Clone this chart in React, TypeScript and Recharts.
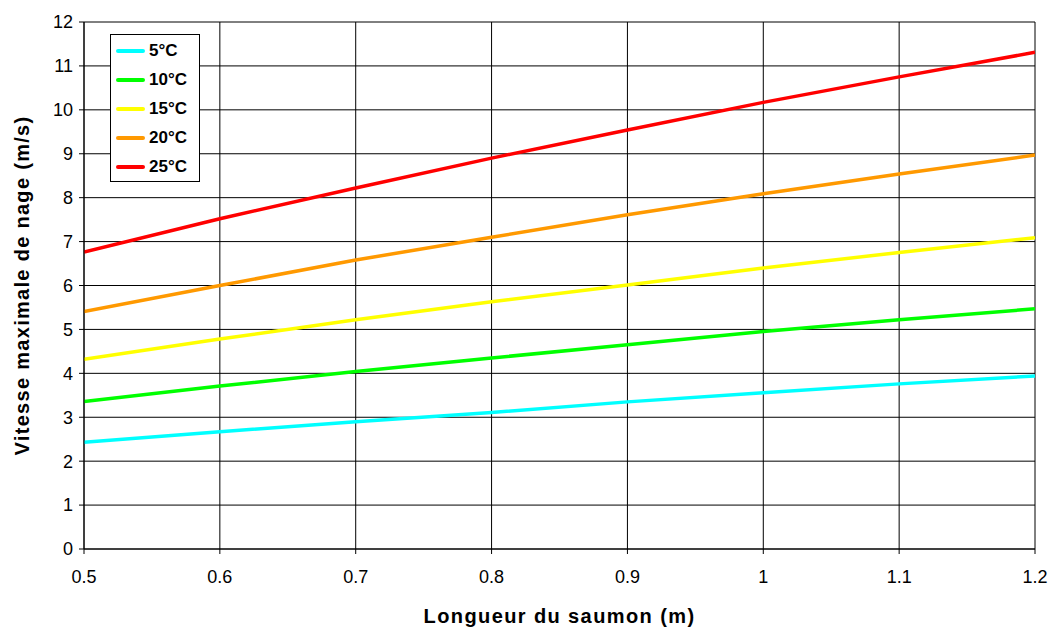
import React from 'react';
import { LineChart, Line, XAxis, YAxis, CartesianGrid } from 'recharts';

const lengths = [0.5, 0.6, 0.7, 0.8, 0.9, 1.0, 1.1, 1.2];
const t5 = [2.43, 2.67, 2.9, 3.11, 3.35, 3.56, 3.76, 3.94];
const t10 = [3.36, 3.71, 4.04, 4.35, 4.65, 4.95, 5.22, 5.47];
const t15 = [4.32, 4.78, 5.22, 5.63, 6.01, 6.4, 6.75, 7.09];
const t20 = [5.41, 6.0, 6.58, 7.1, 7.61, 8.09, 8.54, 8.97];
const t25 = [6.76, 7.52, 8.22, 8.9, 9.54, 10.17, 10.75, 11.31];
const xTicks = [0.5, 0.6, 0.7, 0.8, 0.9, 1.0, 1.1, 1.2];
const yTicks = [0, 1, 2, 3, 4, 5, 6, 7, 8, 9, 10, 11, 12];

const seriesNames = ['5°C', '10°C', '15°C', '20°C', '25°C'];
const seriesKeys = ['t5', 't10', 't15', 't20', 't25'];
const seriesColors = ['#00FFFF', '#00FF00', '#FFFF00', '#FF9900', '#FF0000'];

const data = lengths.map((x, i) => ({
  x,
  t5: t5[i],
  t10: t10[i],
  t15: t15[i],
  t20: t20[i],
  t25: t25[i],
}));

const FONT = 'Arial, "Liberation Sans", sans-serif';

const LegendBox = () => (
  <div
    style={{
      position: 'absolute',
      left: 110,
      top: 34,
      border: '1px solid #000',
      background: '#fff',
      width: 90,
      height: 148,
      boxSizing: 'border-box',
      paddingTop: 1,
      fontFamily: FONT,
    }}
  >
    {seriesNames.map((n, i) => (
      <div key={n} style={{ display: 'flex', alignItems: 'center', height: 29.2 }}>
        <div style={{ width: 29, height: 4, background: seriesColors[i], marginLeft: 5, borderRadius: 2 }} />
        <span style={{ marginLeft: 4, fontWeight: 'bold', fontSize: 17, color: '#000' }}>{n}</span>
      </div>
    ))}
  </div>
);

export default function App() {
  return (
    <div style={{ position: 'absolute', left: 0, top: 0, width: 1056, height: 627, background: '#fff' }}>
      <LineChart
        width={1056}
        height={627}
        data={data}
        margin={{ top: 22, right: 21, left: 0, bottom: 0 }}
      >
        <CartesianGrid stroke="#000" strokeWidth={1} vertical horizontal />
        <XAxis
          dataKey="x"
          type="number"
          domain={[0.5, 1.2]}
          ticks={xTicks}
          tickFormatter={(v: number) => String(Math.round(v * 10) / 10)}
          height={78}
          stroke="#000"
          fontSize={18}
          fontFamily={FONT}
          tickLine={{ stroke: '#000' }}
          tickSize={5}
          tick={{ fill: '#000', fontSize: 18, fontFamily: FONT, dy: 14 }}
          allowDataOverflow
          label={{
            value: 'Longueur du saumon (m)',
            position: 'insideBottom',
            offset: 4,
            style: { fontWeight: 'bold', fontSize: 20, letterSpacing: 1.4, fontFamily: FONT, fill: '#000' },
          }}
        />
        <YAxis
          type="number"
          domain={[0, 12]}
          ticks={yTicks}
          width={84}
          stroke="#000"
          fontSize={18}
          fontFamily={FONT}
          tickLine={{ stroke: '#000' }}
          tickSize={5}
          tick={{ fill: '#000', fontSize: 18, fontFamily: FONT, dx: -4 }}
          interval={0}
          label={{
            value: 'Vitesse maximale de nage (m/s)',
            angle: -90,
            position: 'insideLeft',
            offset: 22,
            style: { fontWeight: 'bold', fontSize: 20, letterSpacing: 1.3, fontFamily: FONT, fill: '#000', textAnchor: 'middle' },
          }}
        />
        {seriesKeys.map((k, i) => (
          <Line
            key={k}
            type="linear"
            dataKey={k}
            name={seriesNames[i]}
            stroke={seriesColors[i]}
            strokeWidth={3.5}
            dot={false}
            activeDot={false}
            isAnimationActive={false}
          />
        ))}
      </LineChart>
      <LegendBox />
    </div>
  );
}
